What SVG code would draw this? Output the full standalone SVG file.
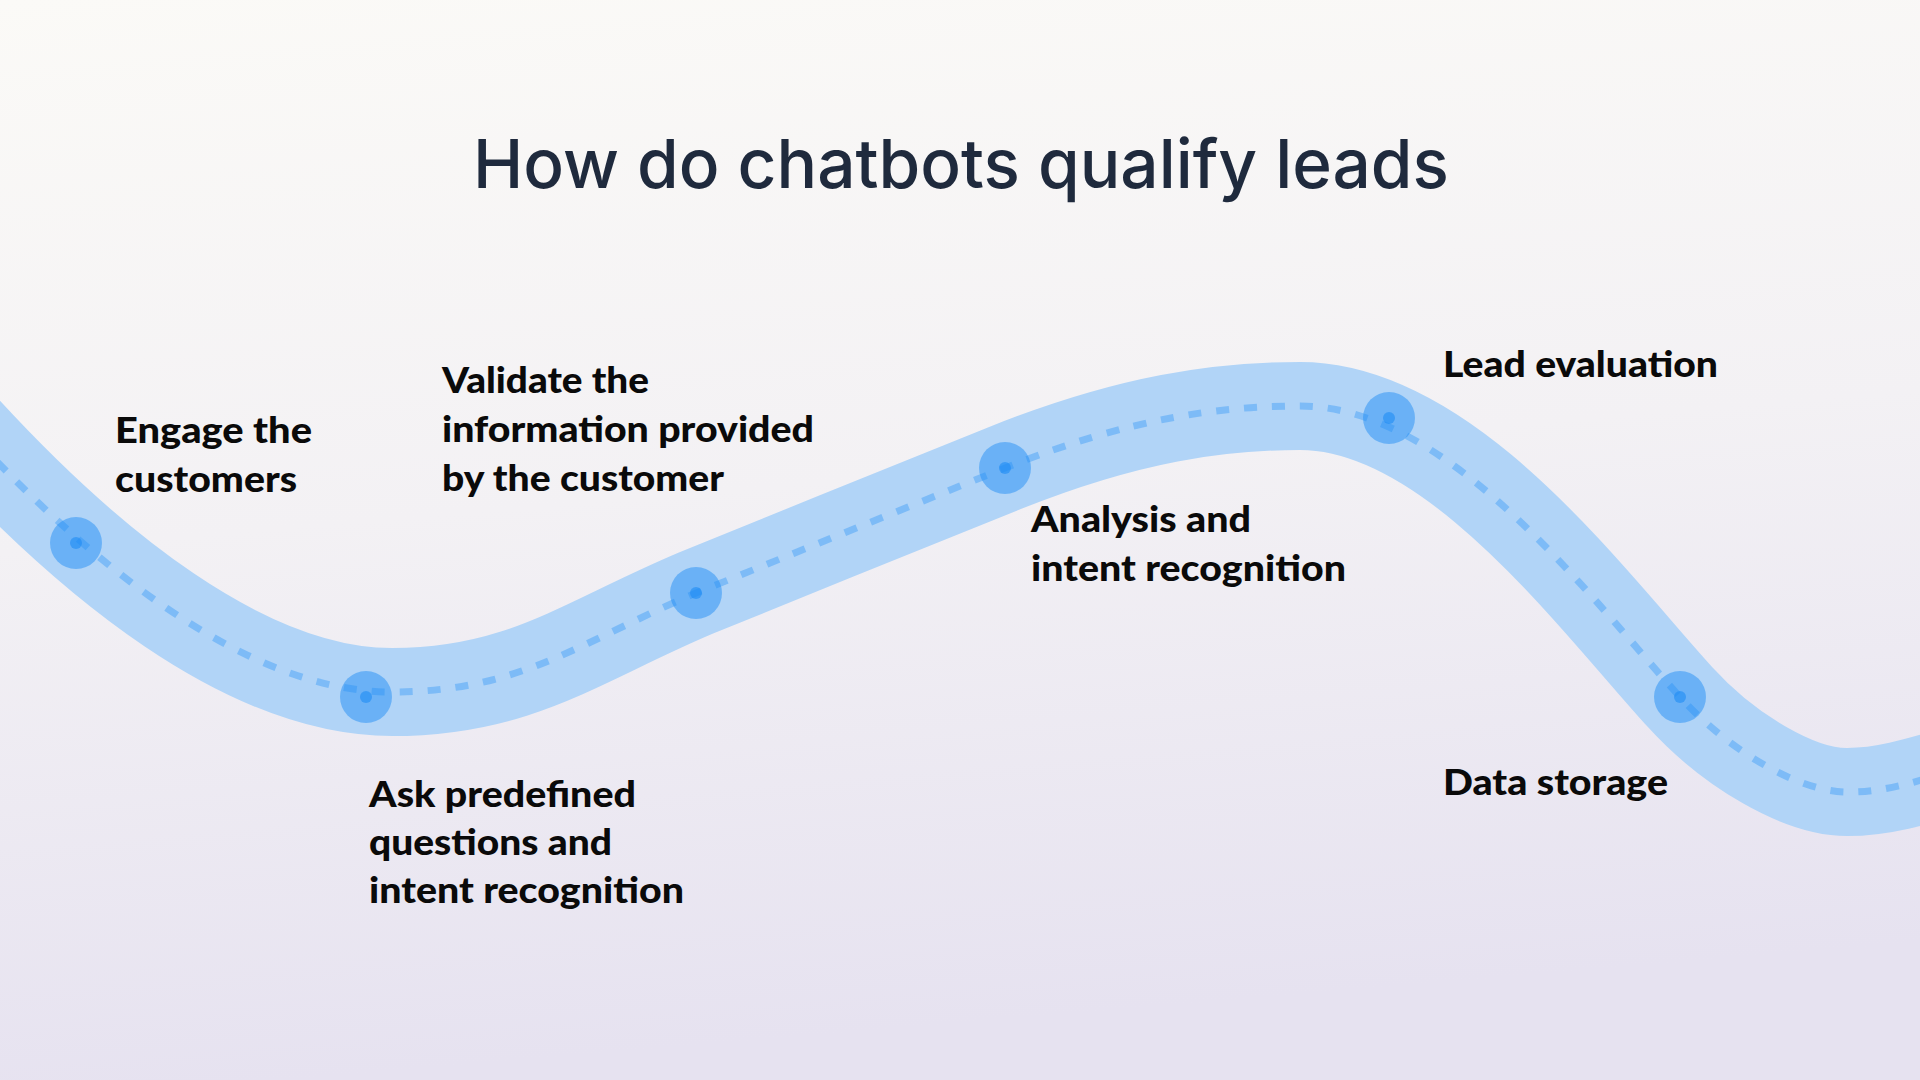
<svg xmlns="http://www.w3.org/2000/svg" width="1920" height="1080" viewBox="0 0 1920 1080">
<defs>
<linearGradient id="bg" x1="0" y1="0" x2="0.15" y2="1">
<stop offset="0" stop-color="#fbfaf7"/>
<stop offset="0.5" stop-color="#f3f1f4"/>
<stop offset="1" stop-color="#e6e2f0"/>
</linearGradient>
<path id="route" d="M -60,400 C 90,570 250,692 392,692 C 520,692 580,642 696,593 C 800,551 900,510 1005,468 C 1130,418 1220,406 1300,406 C 1450,406 1590,598 1680,697 C 1730,752 1800,792 1847,792 C 1880,792 1905,786 1990,760"/>
</defs>
<style>
.band{fill:none;stroke:#b1d4f7;stroke-width:88;stroke-linecap:butt}
.dash{fill:none;stroke:#1e8cf5;stroke-opacity:0.35;stroke-width:7;stroke-dasharray:13 15}
.halo{fill:#1e8cf5;fill-opacity:0.48}
.dot{fill:#1e8cf5;fill-opacity:0.6}
.label{font-family:Lato,"Liberation Sans",sans-serif;font-weight:900;font-size:36px;fill:#0a0a0a}
.title{font-family:Inter,"Liberation Sans",sans-serif;font-weight:500;font-size:68px;fill:#1f2a3d}
</style>
<rect width="1920" height="1080" fill="url(#bg)"/>
<text class="title" x="473" y="188" textLength="976" lengthAdjust="spacingAndGlyphs">How do chatbots qualify leads</text>
<g id="connectors">
<use href="#route" class="band"/>
<use href="#route" class="dash"/>
</g>
<g id="node1"><circle class="halo" cx="76" cy="543" r="26"/><circle class="dot" cx="76" cy="543" r="6"/>
<text class="label" x="115" y="443" textLength="197" lengthAdjust="spacingAndGlyphs">Engage the</text><text class="label" x="115" y="492" textLength="182" lengthAdjust="spacingAndGlyphs">customers</text></g>
<g id="node2"><circle class="halo" cx="366" cy="697" r="26"/><circle class="dot" cx="366" cy="697" r="6"/>
<text class="label" x="369" y="807" textLength="267" lengthAdjust="spacingAndGlyphs">Ask predefined</text><text class="label" x="369" y="855" textLength="243" lengthAdjust="spacingAndGlyphs">questions and</text><text class="label" x="369" y="903" textLength="315" lengthAdjust="spacingAndGlyphs">intent recognition</text></g>
<g id="node3"><circle class="halo" cx="696" cy="593" r="26"/><circle class="dot" cx="696" cy="593" r="6"/>
<text class="label" x="442" y="393" textLength="207" lengthAdjust="spacingAndGlyphs">Validate the</text><text class="label" x="442" y="442" textLength="372" lengthAdjust="spacingAndGlyphs">information provided</text><text class="label" x="442" y="491" textLength="282" lengthAdjust="spacingAndGlyphs">by the customer</text></g>
<g id="node4"><circle class="halo" cx="1005" cy="468" r="26"/><circle class="dot" cx="1005" cy="468" r="6"/>
<text class="label" x="1031" y="532" textLength="220" lengthAdjust="spacingAndGlyphs">Analysis and</text><text class="label" x="1031" y="581" textLength="315" lengthAdjust="spacingAndGlyphs">intent recognition</text></g>
<g id="node5"><circle class="halo" cx="1389" cy="418" r="26"/><circle class="dot" cx="1389" cy="418" r="6"/>
<text class="label" x="1443" y="377" textLength="275" lengthAdjust="spacingAndGlyphs">Lead evaluation</text></g>
<g id="node6"><circle class="halo" cx="1680" cy="697" r="26"/><circle class="dot" cx="1680" cy="697" r="6"/>
<text class="label" x="1443" y="795" textLength="225" lengthAdjust="spacingAndGlyphs">Data storage</text></g>
</svg>
